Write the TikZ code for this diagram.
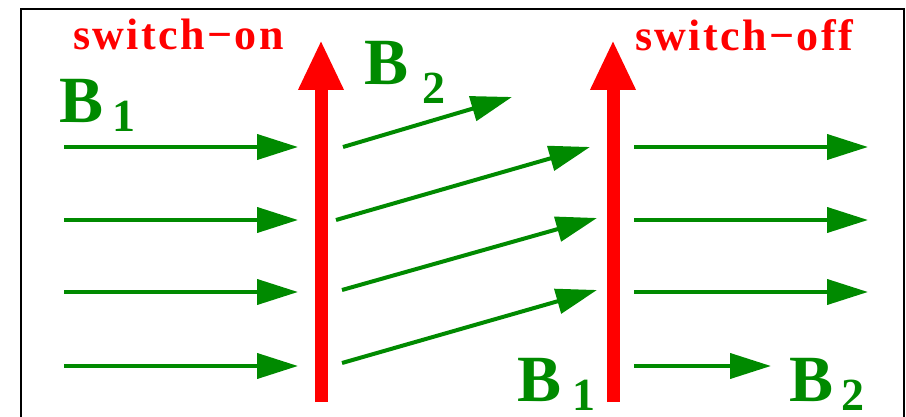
\documentclass[tikz,border=0pt]{standalone}
\usepackage{fontspec}
\setmainfont{Liberation Serif}
\usepackage{tikz}
\usetikzlibrary{arrows.meta}
\definecolor{Field}{HTML}{008A00}
\definecolor{Switch}{HTML}{FF0000}
\tikzset{
  flux/.style={-{Triangle[length=41pt,width=25pt]}, line width=4pt, draw=Field},
  pulse/.style={-{Triangle[length=50pt,width=42pt]}, line width=13pt, draw=Switch},
  bname/.style={text=Field, font=\fontsize{66}{66}\selectfont\bfseries, inner sep=0pt, anchor=base west},
  bsub/.style={text=Field, font=\fontsize{46}{46}\selectfont\bfseries, inner sep=0pt, anchor=base west},
  tag/.style={text=Switch, font=\fontsize{44}{44}\selectfont\bfseries\addfontfeature{LetterSpace=5.5}, inner sep=0pt, anchor=base west}
}

\begin{document}
\begin{tikzpicture}[x=1pt, y=-1pt]
  \useasboundingbox (0,0) rectangle (906,417);
  \clip (0,0) rectangle (906,417);
  \draw[line width=2pt] (21,9) rectangle (904,440);
  % switches
  \coordinate (on-foot) at (321,402);
  \coordinate (on-top) at (321,40);
  \coordinate (off-foot) at (613,402);
  \coordinate (off-top) at (613,40);
  \draw[pulse] (on-foot) -- (on-top);
  \draw[pulse] (off-foot) -- (off-top);
  \node[tag] (on) at (73,50) {switch−on};
  \node[tag] (off) at (635,51) {switch−off};
  % incoming field B1
  \foreach \y in {147,220,292,366}
    \draw[flux] (64,\y) -- (298,\y);
  % field B2 between the switches
  \draw[flux] (343,147) -- (512,97);
  \draw[flux] (336,220) -- (590,147);
  \draw[flux] (342,290) -- (597,218);
  \draw[flux] (342,363) -- (597,290);
  % outgoing field
  \foreach \y in {147,220,292}
    \draw[flux] (634,\y) -- (868,\y);
  \draw[flux] (634,366) -- (771,366);
  % labels
  \node[bname] (b1in) at (59,123) {B};
  \node[bsub] (b1in-sub) at (112,132) {1};
  \node[bname] (b2mid) at (364,85) {B};
  \node[bsub] (b2mid-sub) at (422,104) {2};
  \node[bname] (b1out) at (517,401) {B};
  \node[bsub] (b1out-sub) at (572,410) {1};
  \node[bname] (b2out) at (789,401) {B};
  \node[bsub] (b2out-sub) at (841,410) {2};
\end{tikzpicture}
\end{document}
